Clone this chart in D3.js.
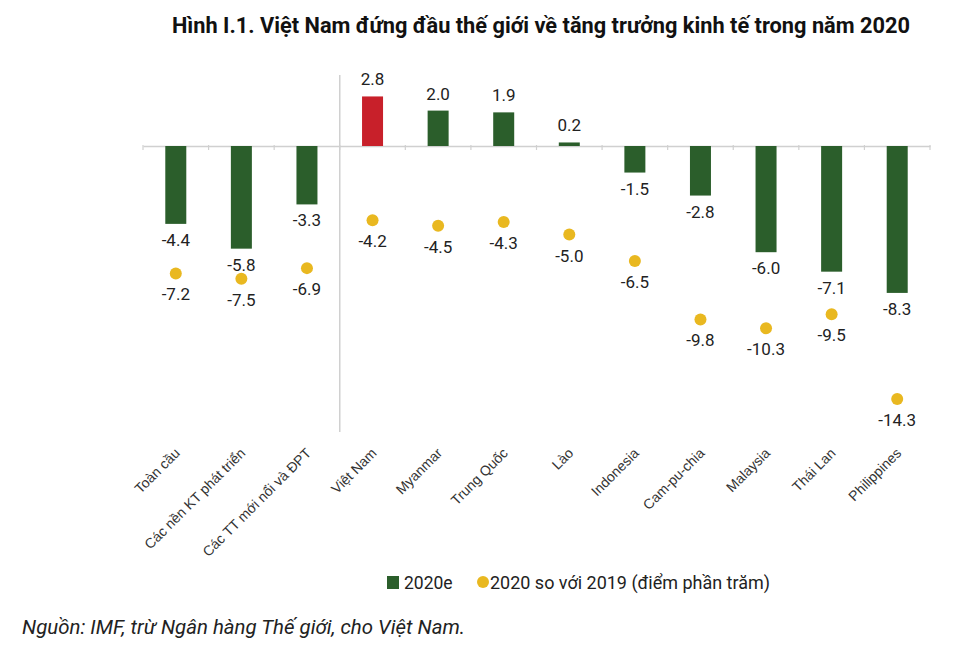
<!DOCTYPE html>
<html><head><meta charset="utf-8">
<script src="https://cdn.jsdelivr.net/npm/d3@7"></script>
<style>body{margin:0;background:#fff;font-family:Roboto,sans-serif}</style>
</head><body><svg id="c" width="980" height="650"></svg>
<script>
const categories = ["Toàn cầu","Các nền KT phát triển","Các TT mới nổi và ĐPT","Việt Nam","Myanmar","Trung Quốc","Lào","Indonesia","Cam-pu-chia","Malaysia","Thái Lan","Philippines"];
const growth2020 = [-4.4,-5.8,-3.3,2.8,2.0,1.9,0.2,-1.5,-2.8,-6.0,-7.1,-8.3];
const diffVs2019 = [-7.2,-7.5,-6.9,-4.2,-4.5,-4.3,-5.0,-6.5,-9.8,-10.3,-9.5,-14.3];
const highlight = "Việt Nam";
const title = "Hình I.1. Việt Nam đứng đầu thế giới về tăng trưởng kinh tế trong năm 2020";
const legendLabels = ["2020e","2020 so với 2019 (điểm phần trăm)"];
const sourceText = "Nguồn: IMF, trừ Ngân hàng Thế giới, cho Việt Nam.";

const svg = d3.select("#c");
const x = d3.scaleBand().domain(categories).range([143,930]).paddingInner(0).paddingOuter(0);
const y = d3.scaleLinear().domain([0,-10]).range([146,323]);
const green="#2b5e2b", red="#c8202a", gold="#e9b820";

svg.append("text").attr("x",541).attr("y",33).attr("text-anchor","middle")
  .attr("font-family","Roboto").attr("font-weight","bold").attr("font-size",21.5)
  .attr("textLength",738).attr("lengthAdjust","spacingAndGlyphs").attr("fill","#111").text(title);

// separator
svg.append("line").attr("x1",x("Việt Nam")).attr("x2",x("Việt Nam")).attr("y1",75).attr("y2",432)
  .attr("stroke","#d0d0d0").attr("stroke-width",1.5);

// zero axis
const axis = d3.axisBottom(x).tickSize(0).tickFormat("");
const ag = svg.append("g").attr("transform",`translate(0,${y(0)})`).call(axis);
ag.select(".domain").attr("stroke","#d0d0d0").attr("stroke-width",1.5);
const bounds = categories.map(c=>x(c)).concat([x.range()[1]]);
svg.selectAll("line.tk").data(bounds).join("line").attr("class","tk")
  .attr("x1",d=>d).attr("x2",d=>d).attr("y1",y(0)-1).attr("y2",y(0)+4).attr("stroke","#d0d0d0").attr("stroke-width",1.2);

const bw = 21;
svg.selectAll("rect.bar").data(categories).join("rect").attr("class","bar")
  .attr("x",(c)=>x(c)+x.bandwidth()/2-bw/2).attr("width",bw)
  .attr("y",(c,i)=>Math.min(y(growth2020[i]),y(0)))
  .attr("height",(c,i)=>Math.abs(y(growth2020[i])-y(0)))
  .attr("fill",c=>c===highlight?red:green);

svg.selectAll("text.bl").data(categories).join("text").attr("class","bl")
  .attr("x",c=>x(c)+x.bandwidth()/2)
  .attr("y",(c,i)=>growth2020[i]>=0? y(growth2020[i])-11 : y(growth2020[i])+22)
  .attr("text-anchor","middle").attr("font-size",17).attr("fill","#222")
  .text((c,i)=>growth2020[i].toFixed(1));

svg.selectAll("circle.dt").data(categories).join("circle").attr("class","dt")
  .attr("cx",c=>x(c)+x.bandwidth()/2).attr("cy",(c,i)=>y(diffVs2019[i])).attr("r",6).attr("fill",gold);

svg.selectAll("text.dl").data(categories).join("text").attr("class","dl")
  .attr("x",c=>x(c)+x.bandwidth()/2).attr("y",(c,i)=>y(diffVs2019[i])+27)
  .attr("text-anchor","middle").attr("font-size",17).attr("fill","#222")
  .text((c,i)=>diffVs2019[i].toFixed(1));

// category labels
svg.selectAll("text.cl").data(categories).join("text").attr("class","cl")
  .attr("transform",c=>`translate(${x(c)+x.bandwidth()/2+5},${454}) rotate(-45)`)
  .attr("text-anchor","end").attr("font-family","'Liberation Sans',Arial,sans-serif")
  .attr("font-size",14).attr("fill","#333").text(c=>c);

// legend
const lg = svg.append("g");
lg.append("rect").attr("x",387).attr("y",576).attr("width",12).attr("height",13).attr("fill",green);
lg.append("text").attr("x",404).attr("y",589).attr("font-size",17.5).attr("fill","#222").text(legendLabels[0]);
lg.append("circle").attr("cx",483).attr("cy",582).attr("r",6).attr("fill",gold);
lg.append("text").attr("x",490).attr("y",589).attr("font-size",17.5).attr("fill","#222")
  .attr("textLength",280).attr("lengthAdjust","spacingAndGlyphs").text(legendLabels[1]);

svg.append("text").attr("x",22).attr("y",634).attr("font-size",20).attr("font-style","italic").attr("fill","#222")
  .attr("textLength",443).attr("lengthAdjust","spacingAndGlyphs").text(sourceText);
</script></body></html>
